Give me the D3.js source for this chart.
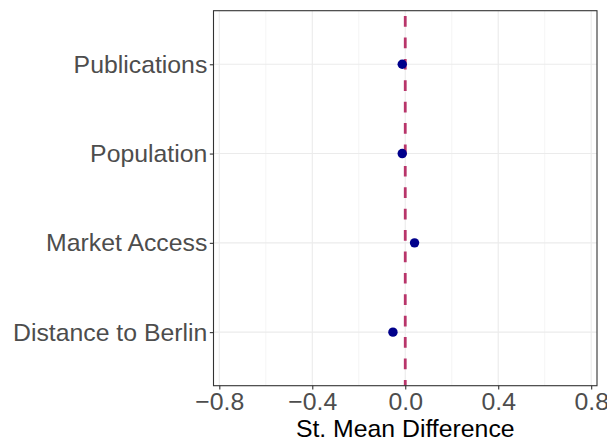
<!DOCTYPE html>
<html>
<head>
<meta charset="utf-8">
<script src="https://cdn.jsdelivr.net/npm/d3@7/dist/d3.min.js"></script>
<style>
  html, body { margin: 0; padding: 0; background: #fff; }
  svg { display: block; font-family: "Liberation Sans", Arial, sans-serif; }
</style>
</head>
<body>
<svg id="chart" width="607" height="441"></svg>
<script>
// Covariates, top to bottom
const covariates = ["Publications", "Population", "Market Access", "Distance to Berlin"];
// Standardised mean difference for each covariate
const smdValues = [-0.013, -0.013, 0.040, -0.053];
// Axis breaks
const majorTicks = [-0.8, -0.4, 0.0, 0.4, 0.8];
const minorTicks = [-0.6, -0.2, 0.2, 0.6];
const xDomain = [-0.825, 0.825];

const svg = d3.select("#chart");
const margin = { top: 10.7, right: 10, bottom: 55.3, left: 213.5 };
const W = 607, H = 441;
const pw = W - margin.left - margin.right;
const ph = H - margin.top - margin.bottom;

const g = svg.append("g").attr("transform", `translate(${margin.left},${margin.top})`);

const x = d3.scaleLinear().domain(xDomain).range([0, pw]);
// discrete scale with 0.6 unit expansion on each end
const n = covariates.length;
const step = ph / (n - 1 + 1.2);
const y = d3.scalePoint().domain(covariates).range([0.6 * step, ph - 0.6 * step]);

// grid
g.selectAll(".minor").data(minorTicks).enter().append("line")
  .attr("x1", d => x(d)).attr("x2", d => x(d)).attr("y1", 0).attr("y2", ph)
  .attr("stroke", "#ebebeb").attr("stroke-width", 0.55);
g.selectAll(".majorx").data(majorTicks).enter().append("line")
  .attr("x1", d => x(d)).attr("x2", d => x(d)).attr("y1", 0).attr("y2", ph)
  .attr("stroke", "#ebebeb").attr("stroke-width", 1.1);
g.selectAll(".majory").data(covariates).enter().append("line")
  .attr("x1", 0).attr("x2", pw).attr("y1", d => y(d)).attr("y2", d => y(d))
  .attr("stroke", "#ebebeb").attr("stroke-width", 1.1);

// reference line at zero
g.append("line")
  .attr("x1", x(0)).attr("x2", x(0)).attr("y1", 0).attr("y2", ph)
  .attr("stroke", "#b8356a").attr("stroke-width", 2.8)
  .attr("stroke-dasharray", "10.7 10.7").attr("stroke-dashoffset", 16);

// points
g.selectAll(".pt").data(covariates).enter().append("circle")
  .attr("cx", (d, i) => x(smdValues[i])).attr("cy", d => y(d))
  .attr("r", 4.7).attr("fill", "#00008b");

// panel border
g.append("rect").attr("x", 0).attr("y", 0).attr("width", pw).attr("height", ph)
  .attr("fill", "none").attr("stroke", "#333333").attr("stroke-width", 1.1);

// axes
const xAxis = g.append("g").attr("transform", `translate(0,${ph})`)
  .call(d3.axisBottom(x).tickValues(majorTicks).tickSize(3.7).tickPadding(3)
    .tickFormat(d => d3.format(".1f")(d).replace("-", "\u2212")));
const yAxis = g.append("g")
  .call(d3.axisLeft(y).tickSize(3.7).tickPadding(2.5));

[xAxis, yAxis].forEach(a => {
  a.select(".domain").remove();
  a.selectAll(".tick line").attr("stroke", "#333333").attr("stroke-width", 1.1);
  a.selectAll(".tick text").attr("fill", "#4d4d4d").attr("font-size", "24.8px")
    .attr("font-family", "'Liberation Sans', Arial, sans-serif");
});

// axis title
svg.append("text")
  .attr("x", margin.left + pw / 2).attr("y", 436.5)
  .attr("text-anchor", "middle").attr("font-size", "24.8px").attr("fill", "#000")
  .text("St. Mean Difference");
</script>
</body>
</html>
